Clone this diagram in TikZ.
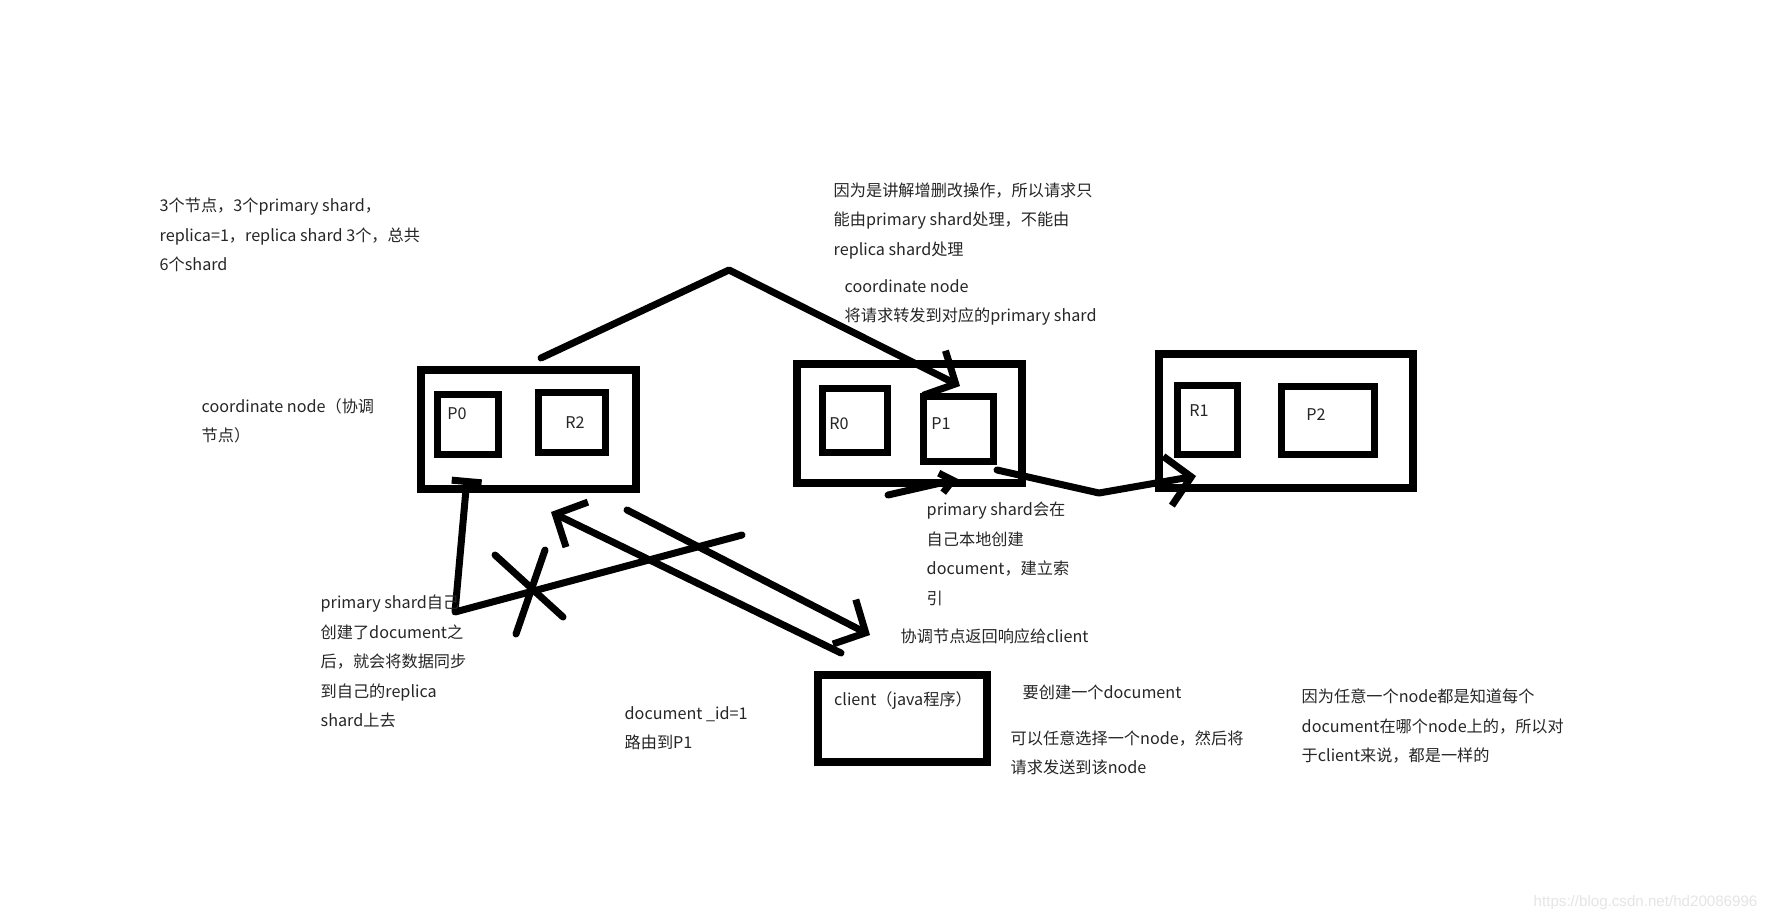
\documentclass[tikz,border=0pt]{standalone}
\usepackage{fontspec}
\setmainfont{Noto Sans CJK SC}
\newfontfamily\wmfont{Liberation Sans}
\usepackage{tikz}
\usetikzlibrary{arrows.meta,positioning}
\definecolor{inkgray}{rgb}{0.15,0.15,0.15}

\tikzset{
  pen/.style={line width=0.07cm, line cap=round, line join=round},
  hand tip/.style={-{Straight Barb[length=2.4mm,width=5mm]}},
  server/.style={draw, line width=0.08cm, inner sep=0},
  shard/.style={draw, line width=0.075cm, inner sep=0},
  note/.style={anchor=west, inner sep=0, align=left, text=inkgray, font=\fontsize{4.6pt}{8.4pt}\selectfont},
}

\begin{document}
\begin{tikzpicture}[x=0.01cm, y=-0.01cm]
          \useasboundingbox (0,0) rectangle (1777,921);
          \fill[white] (0,0) rectangle (1777,921);
          % the three nodes and their shards
          \node[server, minimum width=2.15cm, minimum height=1.19cm] (node1) at (528.5,429.5) {};
          \node[shard, minimum width=0.61cm, minimum height=0.60cm] (p0) at (468,424.5) {};
          \node[shard, minimum width=0.67cm, minimum height=0.60cm] (r2) at (572,422.5) {};
          \node[note, anchor=center] (p0-text) at (457,414) {P0};
          \node[note, anchor=center] (r2-text) at (575,423) {R2};
          \node[server, minimum width=2.25cm, minimum height=1.19cm] (node2) at (909.5,423.5) {};
          \node[shard, minimum width=0.65cm, minimum height=0.64cm] (r0) at (855,420.5) {};
          \node[shard, minimum width=0.70cm, minimum height=0.65cm] (p1) at (958.5,429) {};
          \node[note, anchor=center] (r0-text) at (839,424) {R0};
          \node[note, anchor=center] (p1-text) at (941,424) {P1};
          \node[server, minimum width=2.54cm, minimum height=1.34cm] (node3) at (1286,421) {};
          \node[shard, minimum width=0.60cm, minimum height=0.69cm] (r1) at (1207.5,420) {};
          \node[shard, minimum width=0.93cm, minimum height=0.68cm] (p2) at (1328,420.5) {};
          \node[note, anchor=center] (r1-text) at (1199,411) {R1};
          \node[note, anchor=center] (p2-text) at (1316,415) {P2};
          % client
          \node[server, minimum width=1.69cm, minimum height=0.87cm] (client) at (902.5,718.5) {};
          \node[note, anchor=center] (client-text) at (903,701) {client（java程序）};
          % hand drawn connectors
          \coordinate (fwd-start) at (541,358);
          \coordinate (fwd-peak) at (729,270);
          \coordinate (fwd-tip) at (960,386);
          \draw[pen, hand tip] (fwd-start) -- (fwd-peak) -- (fwd-tip);
          \coordinate (rep-start) at (997,470);
          \coordinate (rep-dip) at (1099,493);
          \coordinate (rep-tip) at (1196,476);
          \draw[pen, hand tip] (rep-start) -- (rep-dip) -- (rep-tip);
          \coordinate (in-start) at (888,495);
          \coordinate (in-tip) at (958,479);
          \draw[pen, -{Straight Barb[length=1.2mm,width=2mm]}] (in-start) -- (in-tip);
          \coordinate (sync-start) at (742,535);
          \coordinate (sync-corner) at (455,612);
          \coordinate (sync-tip) at (467,478);
          \draw[pen, -{Bar[width=3mm]}] (sync-start) -- (sync-corner) -- (sync-tip);
          \coordinate (cross-a1) at (495,555);
          \coordinate (cross-a2) at (563,617);
          \coordinate (cross-b1) at (545,550);
          \coordinate (cross-b2) at (516,634);
          \draw[pen] (cross-a1) -- (cross-a2);
          \draw[pen] (cross-b1) -- (cross-b2);
          \coordinate (req-start) at (841,653);
          \coordinate (req-tip) at (551,512);
          \draw[pen, hand tip] (req-start) -- (req-tip);
          \coordinate (resp-start) at (627,510);
          \coordinate (resp-tip) at (870,635);
          \draw[pen, hand tip] (resp-start) -- (resp-tip);
          % notes
          \node[note] (note-shards) at (159,235) {3个节点，3个primary shard，\\replica=1，replica shard 3个，总共\\6个shard};
          \node[note] (note-crud) at (833,221) {因为是讲解增删改操作，所以请求只\\能由primary shard处理，不能由\\replica shard处理};
          \node[note] (note-forward) at (844,302.5) {coordinate node\\将请求转发到对应的primary shard};
          \node[note] (note-coord) at (201,421) {coordinate node（协调\\节点）};
          \node[note] (note-index) at (926,554) {primary shard会在\\自己本地创建\\document，建立索\\引};
          \node[note] (note-response) at (900,636.5) {协调节点返回响应给client};
          \node[note] (note-sync) at (320,661.5) {primary shard自己\\创建了document之\\后，就会将数据同步\\到自己的replica\\shard上去};
          \node[note] (note-route) at (624,728) {document \_id=1\\路由到P1};
          \node[note] (note-create) at (1022,692.5) {要创建一个document};
          \node[note] (note-choose) at (1010,753) {可以任意选择一个node，然后将\\请求发送到该node};
          \node[note] (note-any) at (1301,726) {因为任意一个node都是知道每个\\document在哪个node上的，所以对\\于client来说，都是一样的};
          \node[note, text=black!10, font=\wmfont\fontsize{4.3pt}{5pt}\selectfont] (watermark) at (1533,903) {https://blog.csdn.net/hd20086996};
        \end{tikzpicture}
\end{document}
